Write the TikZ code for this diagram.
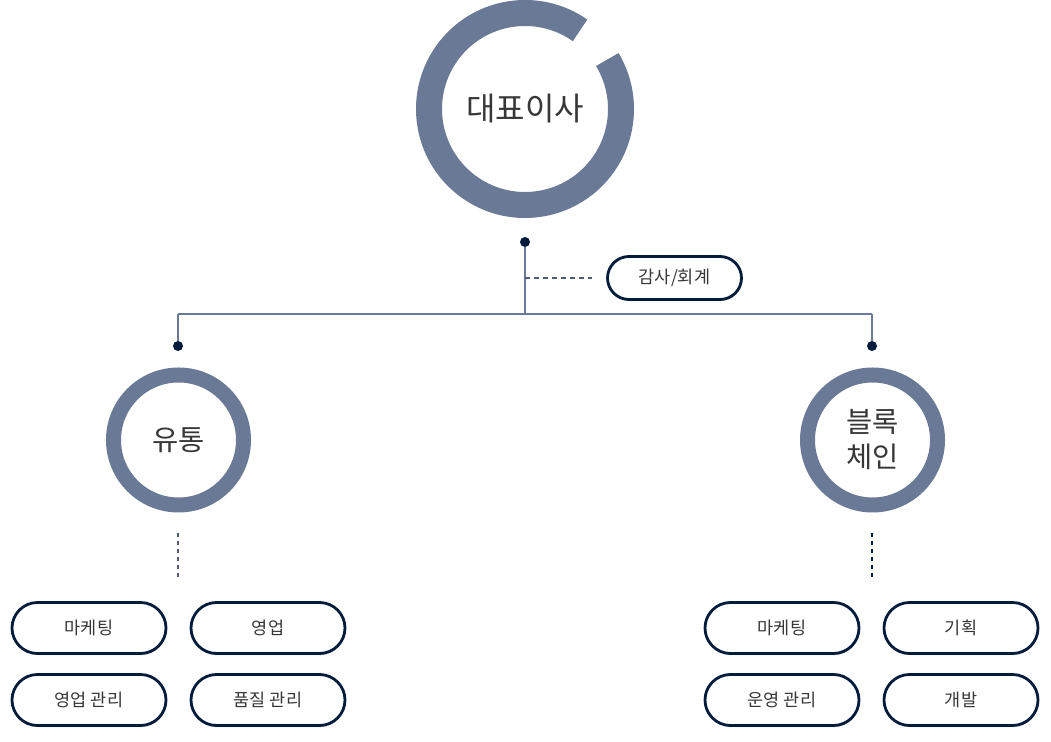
\documentclass[tikz,border=0pt]{standalone}
\usepackage{fontspec}
\setmainfont{Noto Sans CJK KR}
\usetikzlibrary{shapes.misc,shadows}
\definecolor{ring}{RGB}{106,122,150}
\definecolor{navy}{RGB}{4,28,60}
\definecolor{txt}{RGB}{55,55,55}
\definecolor{dashc}{RGB}{80,92,115}
\begin{document}
\begin{tikzpicture}[x=1pt,y=1pt,
  pill/.style={rounded rectangle, draw=navy, line width=2.8pt, fill=white,
    minimum width=154pt, minimum height=51pt, inner sep=0pt, text=txt,
    font=\fontsize{17.5}{20}\selectfont,
    drop shadow={shadow xshift=0.6pt, shadow yshift=-1.6pt, opacity=0.18, fill=black}},
  smallpill/.style={pill, minimum width=134pt, minimum height=43pt},
  subring/.style={circle, draw=ring, line width=15pt, minimum size=130pt, inner sep=0pt,
    text=txt, font=\fontsize{28.5}{35}\selectfont, align=center},
  dot/.style={circle, fill=navy, minimum size=10pt, inner sep=0pt},
  conn/.style={draw=ring, line width=1.5pt},
  dashline/.style={draw=dashc, line width=1.2pt, dash pattern=on 5pt off 4pt}]
\useasboundingbox (0,0) rectangle (1051,741);
% CEO
\node[circle, minimum size=218pt, inner sep=0pt, text=txt, font=\fontsize{32}{38}\selectfont] (ceo) at (525,632) {\raisebox{3pt}{대표이사}};
\draw[ring, line width=26pt] ([shift={(55:96pt)}]ceo.center) arc[start angle=55, end angle=391, radius=96pt];
% dots and junctions
\node[dot] (d0) at (525,499) {};
\node[dot] (d1) at (178,395) {};
\node[dot] (d2) at (872,395) {};
\coordinate (j0) at (525,427);
\coordinate (jl) at (178,427);
\coordinate (jr) at (872,427);
\draw[conn] (d0) -- (j0);
\draw[conn] (jl) -- (jr);
\draw[conn] (jl) -- (d1);
\draw[conn] (jr) -- (d2);
% audit
\node[smallpill] (audit) at (674.5,463) {감사/회계};
\coordinate (a0) at (525,463);
\coordinate (a1) at (592,463);
\draw[dashline] (a0) -- (a1);
% divisions
\node[subring] (dist) at (178.5,301) {유통};
\node[subring] (bc) at (872.5,301) {블록\\체인};
\coordinate (l0) at (178,208);
\coordinate (l1) at (178,161);
\coordinate (r0) at (872,208);
\coordinate (r1) at (872,161);
\draw[dashline, dash pattern=on 4pt off 4pt] (l0) -- (l1);
\draw[dashline, draw=navy, dash pattern=on 4pt off 4pt] (r0) -- (r1);
% teams
\node[pill] (m1) at (89,113) {마케팅};
\node[pill] (s1) at (268,113) {영업};
\node[pill] (sm) at (89,41) {영업 관리};
\node[pill] (qm) at (268,41) {품질 관리};
\node[pill] (m2) at (782,113) {마케팅};
\node[pill] (pl) at (961,113) {기획};
\node[pill] (om) at (782,41) {운영 관리};
\node[pill] (dv) at (961,41) {개발};
\end{tikzpicture}
\end{document}
